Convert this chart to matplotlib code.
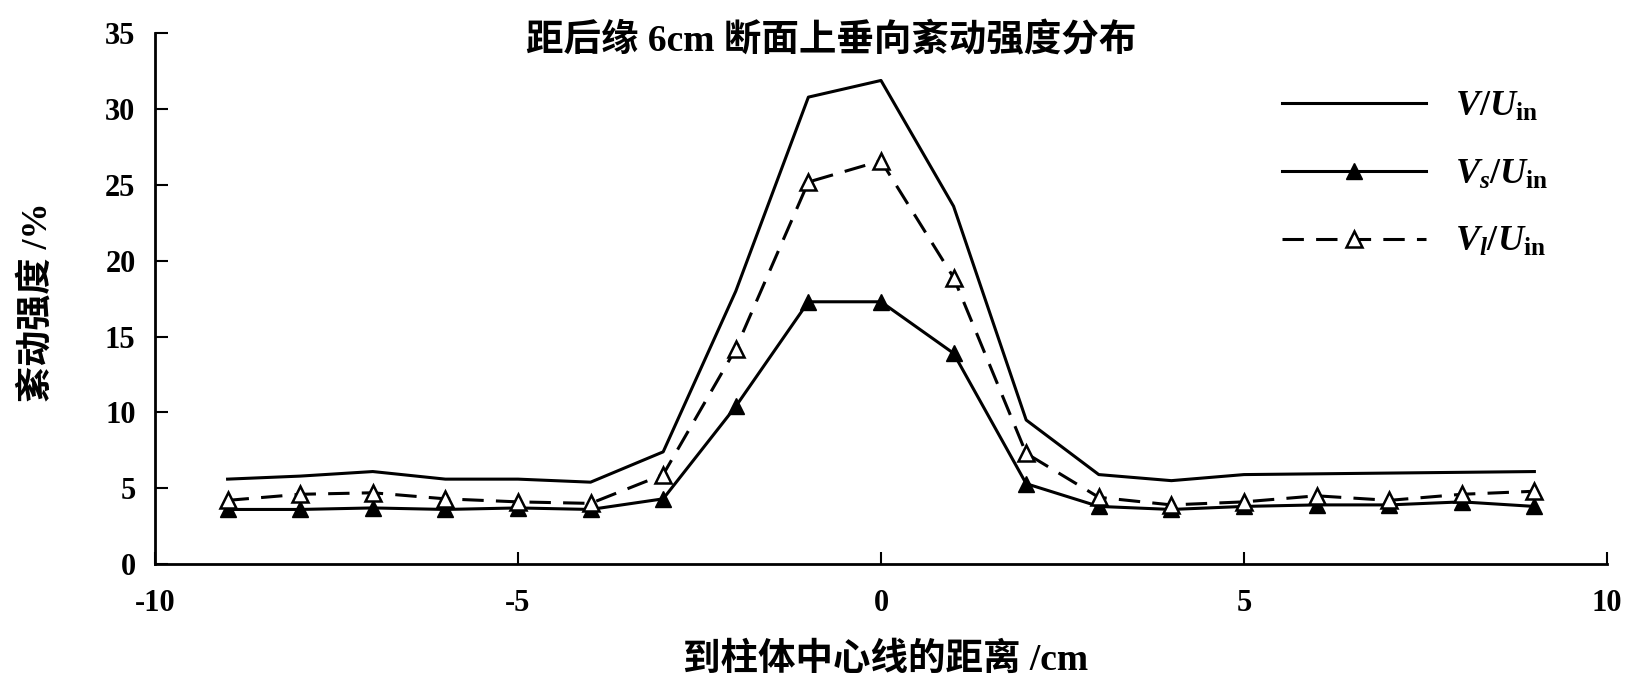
import matplotlib
matplotlib.use('Agg')
import matplotlib.pyplot as plt

# data
x_cm = [-9, -8, -7, -6, -5, -4, -3, -2, -1, 0, 1, 2, 3, 4, 5, 6, 7, 8, 9]
v_total = [5.6, 5.8, 6.1, 5.6, 5.6, 5.4, 7.4, 18.0, 30.8, 31.9, 23.6, 9.5, 5.9, 5.5, 5.9, 5.95, 6.0, 6.05, 6.1]
v_small = [3.6, 3.6, 3.7, 3.6, 3.7, 3.6, 4.3, 10.4, 17.3, 17.3, 13.9, 5.3, 3.8, 3.6, 3.8, 3.9, 3.9, 4.1, 3.8]
v_large = [4.2, 4.6, 4.7, 4.3, 4.1, 4.0, 5.9, 14.2, 25.2, 26.6, 18.9, 7.3, 4.4, 3.9, 4.1, 4.5, 4.2, 4.6, 4.8]
labels = [r'$V/U_{\rm in}$', r'$V_s/U_{\rm in}$', r'$V_l/U_{\rm in}$']
x_ticks = [-10, -5, 0, 5, 10]
y_ticks = [0, 5, 10, 15, 20, 25, 30, 35]

title = '距后缘 6cm 断面上垂向紊动强度分布'
xlabel = '到柱体中心线的距离 /cm'
ylabel = '紊动强度 /%'

plt.rcParams['font.family'] = ['Liberation Serif', 'Noto Sans CJK SC']
plt.rcParams['font.weight'] = 'bold'
plt.rcParams['axes.unicode_minus'] = False
plt.rcParams['mathtext.fontset'] = 'custom'
plt.rcParams['mathtext.it'] = 'Liberation Serif:italic:bold'
plt.rcParams['mathtext.rm'] = 'Liberation Serif:bold'
plt.rcParams['mathtext.bf'] = 'Liberation Serif:bold'

fig = plt.figure(figsize=(16.47, 6.83), dpi=100)
ax = fig.add_axes([0.0941, 0.1742, 0.8816, 0.7768])

ax.plot(x_cm, v_total, color='black', lw=2.2, label=labels[0])
ax.plot(x_cm, v_small, color='black', lw=2.2, marker='^', ms=11,
        mfc='black', mec='black', label=labels[1])
ax.plot(x_cm, v_large, color='black', lw=2.2, ls=(0, (7, 4)), marker='^', ms=11,
        mfc='white', mec='black', mew=1.8, label=labels[2])

ax.set_xlim(-10, 10)
ax.set_ylim(0, 35)
ax.set_xticks(x_ticks)
ax.set_yticks(y_ticks)
ax.spines['top'].set_visible(False)
ax.spines['right'].set_visible(False)
ax.spines['left'].set_linewidth(2)
ax.spines['bottom'].set_linewidth(2)
ax.tick_params(axis='both', direction='in', length=9, width=1.5, labelsize=22)
ax.tick_params(axis='x', pad=18)
ax.tick_params(axis='y', pad=14)

fig.text(831 / 1647, 1 - 42 / 683, title, ha='center', va='center',
         fontsize=27, fontweight='bold')

fig.text(886 / 1647, 1 - 660 / 683, xlabel, ha='center', va='center', fontsize=27, fontweight='bold')
fig.text(37 / 1647, 1 - 302 / 683, ylabel, ha='center', va='center', rotation=90,
         fontsize=26, fontweight='bold')

leg = ax.legend(loc='center left', bbox_to_anchor=(1282 / 1647, 1 - 175 / 683),
                bbox_transform=fig.transFigure, frameon=False, fontsize=26,
                handlelength=4.0, handletextpad=0.8, labelspacing=0.95,
                borderpad=0, borderaxespad=0)

fig.savefig('out.png', dpi=100)
